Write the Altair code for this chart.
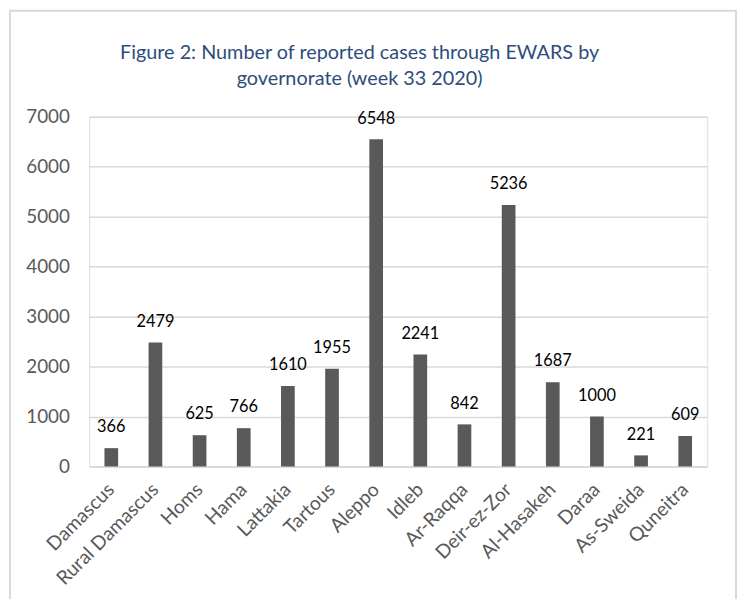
import altair as alt
import pandas as pd

governorates = ["Damascus", "Rural Damascus", "Homs", "Hama", "Lattakia", "Tartous",
                "Aleppo", "Idleb", "Ar-Raqqa", "Deir-ez-Zor", "Al-Hasakeh", "Daraa",
                "As-Sweida", "Quneitra"]
cases = [366, 2479, 625, 766, 1610, 1955, 6548, 2241, 842, 5236, 1687, 1000, 221, 609]
y_ticks = [0, 1000, 2000, 3000, 4000, 5000, 6000, 7000]
title_lines = ["Figure 2: Number of reported cases through EWARS by",
               "governorate (week 33 2020)"]

df = pd.DataFrame({"gov": governorates, "cases": cases})

FONT = "Lato"
W, H = 624, 353

x = alt.X("gov:N", sort=governorates, title=None,
          scale=alt.Scale(paddingInner=0.69, paddingOuter=0.345),
          axis=alt.Axis(labelAngle=-45, labelFont=FONT, labelFontSize=19.5,
                        labelColor="#595959", ticks=False, domainColor="#D9D9D9",
                        domainWidth=1.5, labelPadding=20, labelAlign="right",
                        labelBaseline="middle"))
y = alt.Y("cases:Q", title=None,
          scale=alt.Scale(domain=[0, 7000], nice=False),
          axis=alt.Axis(values=y_ticks, format="d", labelFont=FONT, labelFontSize=19,
                        labelColor="#595959", ticks=False, domain=False,
                        gridColor="#D9D9D9", gridWidth=1.5, labelPadding=20))

bars = alt.Chart(df).mark_bar(color="#595959").encode(x=x, y=y)
labels = alt.Chart(df).mark_text(font=FONT, fontSize=16.5, color="#000000",
                                 baseline="alphabetic", dy=-16).encode(
    x=alt.X("gov:N", sort=governorates), y="cases:Q", text="cases:Q")

base1 = alt.Chart(pd.DataFrame({"a": [0]}))
frame = base1.mark_rect(
    fill=None, stroke="#D9D9D9", strokeWidth=2, clip=False).encode(
    x=alt.value(-80), x2=alt.value(653), y=alt.value(-107), y2=alt.value(520))

title = base1.mark_text(text=title_lines, font=FONT, fontSize=20, color="#2E4D7B",
                        align="center", baseline="alphabetic", lineHeight=26).encode(
    x=alt.value(273), y=alt.value(-58))

chart = alt.layer(frame, bars, labels, title).properties(
    width=W, height=H,
    padding={"left": 82, "top": 107, "right": 30, "bottom": 131},
    autosize=alt.AutoSizeParams(type="none"),
).configure_view(stroke=None).configure(background="white")

chart.save("out.html", embed_options={"renderer": "svg", "actions": False})
